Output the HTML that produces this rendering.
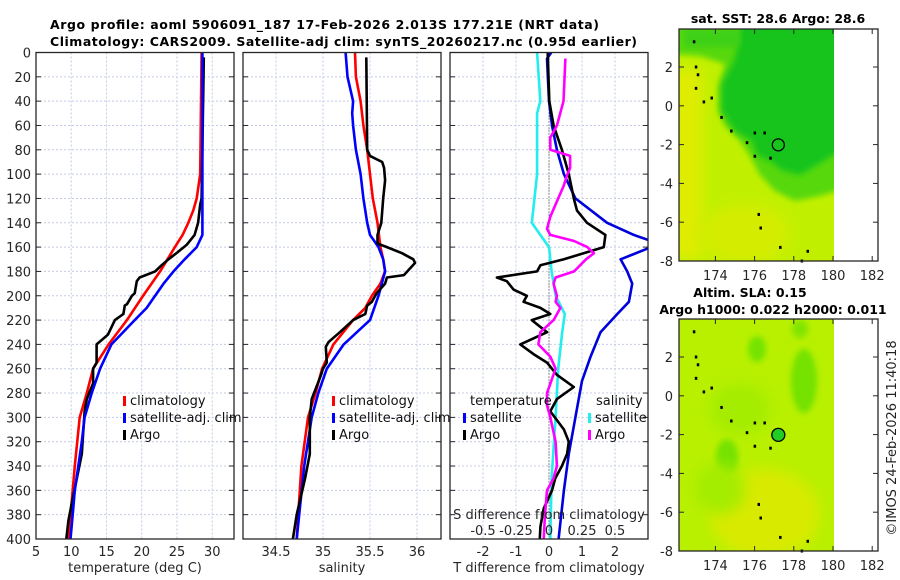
<!DOCTYPE html>
<html><head><meta charset="utf-8"><style>
html,body{margin:0;padding:0;background:#fff;}
svg{display:block;font-family:"DejaVu Sans","Liberation Sans",sans-serif;}
</style></head><body>
<svg id="fig" width="900" height="580" viewBox="0 0 900 580" xmlns="http://www.w3.org/2000/svg">
<defs>
<clipPath id="c1"><rect x="36" y="52" width="198" height="487"/></clipPath>
<clipPath id="c2"><rect x="243" y="52" width="198" height="487"/></clipPath>
<clipPath id="c3"><rect x="450" y="52" width="198" height="487"/></clipPath>
<clipPath id="m1"><rect x="679" y="29" width="155" height="232"/></clipPath>
<clipPath id="m2"><rect x="679" y="319" width="155" height="232"/></clipPath>
<filter id="blur3" x="-20%" y="-20%" width="140%" height="140%"><feGaussianBlur stdDeviation="3"/></filter>
<filter id="blur8" x="-30%" y="-30%" width="160%" height="160%"><feGaussianBlur stdDeviation="7"/></filter>
</defs>
<text x="50" y="29" font-size="12.5" font-weight="bold" textLength="549" fill="#000">Argo profile: aoml 5906091_187 17-Feb-2026 2.013S 177.21E (NRT data)</text>
<text x="50" y="46" font-size="12.5" font-weight="bold" textLength="587" fill="#000">Climatology: CARS2009. Satellite-adj clim: synTS_20260217.nc (0.95d earlier)</text>
<g id="grids"></g>
<g id="lines"></g>
<g id="axes"></g>
<g id="maps"></g>
</svg>
<script>
// ---- data (depth in m) ----
const climTDepth=[0,100,120,130,140,150,160,180,200,220,240,260,280,300,340,360,400];
const climT=[28.5,28.3,27.8,27.3,26.6,25.8,24.7,22.6,20.2,17.9,15.3,13.1,12.2,11.2,10.5,10.2,9.6];
const satTDepth=[0,140,150,160,170,180,190,200,210,220,240,260,280,300,320,340,360,380,400];
const satT=[28.6,28.6,28.6,27.8,26.1,24.5,23.1,21.9,20.7,19.0,15.7,14.1,12.9,11.9,11.5,11.0,10.5,10.2,9.9];
const argoTDepth=[4,120,125,140,150,158,165,170,175,180,185,188,198,200,207,208,215,220,232,240,255,260,272,285,295,330,350,370,385,400];
const argoT=[28.8,28.5,28.3,28.0,27.5,26.4,24.9,23.8,22.8,21.9,19.7,19.3,19.0,18.6,17.9,17.6,17.4,16.2,15.2,13.6,13.6,13.1,13.1,12.2,11.9,11.5,10.8,10.1,9.6,9.3];
const climSDepth=[0,20,40,60,80,100,120,140,160,170,180,190,200,210,220,240,260,280,300,340,400];
const climS=[35.34,35.35,35.40,35.43,35.47,35.50,35.53,35.58,35.61,35.64,35.66,35.61,35.52,35.45,35.32,35.11,34.99,34.92,34.84,34.77,34.72];
const satSDepth=[0,20,40,50,60,80,100,120,140,150,160,170,180,200,220,230,240,260,280,300,340,400];
const satS=[35.24,35.26,35.32,35.31,35.32,35.35,35.40,35.43,35.47,35.50,35.59,35.64,35.66,35.59,35.50,35.36,35.22,35.04,34.95,34.88,34.80,34.72];
const argoSDepth=[4,80,85,90,95,105,120,140,150,157,160,165,170,173,178,183,185,190,198,205,208,215,220,230,238,242,255,260,265,285,300,330,350,380,400];
const argoS=[35.46,35.47,35.50,35.63,35.65,35.66,35.64,35.62,35.58,35.58,35.68,35.84,35.96,35.98,35.92,35.86,35.68,35.66,35.57,35.52,35.47,35.45,35.32,35.18,35.06,35.03,35.04,35.00,34.98,34.88,34.86,34.86,34.81,34.72,34.68];
const satdTDepth=[0,5,40,60,80,100,120,140,150,155,160,170,180,190,205,215,230,250,270,300,330,360,400];
const satdT=[0.07,-0.06,0,0.09,0.24,0.45,0.8,1.76,2.57,3.1,3.1,2.17,2.37,2.52,2.42,2.07,1.56,1.26,1.0,0.8,0.6,0.45,0.29];
const argodTDepth=[0,40,60,80,100,120,130,140,150,160,165,170,175,180,185,188,195,200,205,210,215,220,230,240,248,255,265,275,285,295,310,320,330,340,350,360,375,390,400];
const argodT=[-0.04,0.01,0.14,0.39,0.6,0.75,0.85,1.15,1.71,1.66,1.05,0.45,-0.26,-0.36,-1.58,-1.28,-1.07,-0.67,-0.77,-0.26,0.04,-0.52,-0.06,-0.87,-0.47,-0.06,0.24,0.75,0.24,0.04,0.45,0.6,0.55,0.39,0.19,0.09,-0.16,-0.26,-0.28];
const satdSDepth=[0,40,50,60,100,140,150,160,180,200,215,230,260,300,350,400];
const satdS=[-0.09,-0.066,-0.09,-0.09,-0.09,-0.13,-0.066,0,0.02,0.05,0.12,0.1,0.07,0.05,0.02,0.01];
const argodSDepth=[5,40,60,70,80,85,95,100,110,120,135,145,150,155,160,165,170,180,185,190,200,205,210,220,230,240,250,260,280,290,300,320,340,350,360,380,400];
const argodS=[0.124,0.11,0.06,0.01,0.01,0.16,0.16,0.14,0.11,0.07,0.01,-0.015,0.01,0.19,0.29,0.34,0.28,0.19,0.05,0.035,0.06,0.05,0.086,0.035,-0.066,-0.08,0.01,0.05,-0.015,-0.015,0.01,0.05,0.06,0.035,-0.015,-0.03,-0.04];
const depthTicks=[0,20,40,60,80,100,120,140,160,180,200,220,240,260,280,300,320,340,360,380,400];
const tTicks=[5,10,15,20,25,30];
const sTicks=[34.5,35,35.5,36];
const dTTicks=[-2,-1,0,1,2];
const dSTickLabels=["-0.5","-0.25","0","0.25","0.5"];
const dSTicks=[-0.5,-0.25,0,0.25,0.5];

const NS="http://www.w3.org/2000/svg";
const Y0=52.5,Y1=539;
function yD(d){return Y0+(Y1-Y0)*d/400;}
const P=[{x0:36,x1:234,min:5,max:33.09,clip:"c1",name:"temperature-panel"},
{x0:243,x1:441,min:34.149,max:36.255,clip:"c2",name:"salinity-panel"},
{x0:450,x1:648,min:-3,max:3,clip:"c3",name:"difference-panel"}];
function xP(p,v){return p.x0+(v-p.min)/(p.max-p.min)*(p.x1-p.x0);}
function mk(tag,attrs,parent){const e=document.createElementNS(NS,tag);for(const k in attrs)e.setAttribute(k,attrs[k]);parent.appendChild(e);return e;}
const G=document.getElementById('grids'),L=document.getElementById('lines'),A=document.getElementById('axes'),M=document.getElementById('maps');
const gridCol="#c4cbe6";
P.forEach((p,i)=>{
  depthTicks.forEach(d=>{if(d>0&&d<400){const l=mk('line',{x1:p.x0,x2:p.x1,y1:yD(d),y2:yD(d),stroke:gridCol,'stroke-width':1,'stroke-dasharray':'2,2'},G);
  
  }});
  const tk=i==0?tTicks:(i==1?sTicks:dTTicks);
  tk.forEach(v=>{const x=xP(p,v);if(x>p.x0+1){const l=mk('line',{x1:x,x2:x,y1:Y0,y2:Y1,stroke:gridCol,'stroke-width':1,'stroke-dasharray':'2,2'},G);
  
  }});
});
const zl=mk('line',{x1:xP(P[2],0),x2:xP(P[2],0),y1:Y0,y2:Y1,stroke:'#333','stroke-width':1,'stroke-dasharray':'1,2'},G);


function series(p,ds,vs,col,name,scale){
  const pts=ds.map((d,i)=>xP(p,vs[i]*(scale||1)).toFixed(1)+','+yD(d).toFixed(1)).join(' ');
  const e=mk('polyline',{points:pts,fill:'none',stroke:col,'stroke-width':2.6,'stroke-linejoin':'round','clip-path':'url(#'+p.clip+')'},L);
  
  
}
series(P[0],climTDepth,climT,'#ff0000','climatology-temperature-line');
series(P[0],argoTDepth,argoT,'#000','argo-temperature-line');
series(P[0],satTDepth,satT,'#0000ff','satellite-temperature-line');
series(P[1],climSDepth,climS,'#ff0000','climatology-salinity-line');
series(P[1],satSDepth,satS,'#0000ff','satellite-salinity-line');
series(P[1],argoSDepth,argoS,'#000','argo-salinity-line');
series(P[2],satdSDepth,satdS,'#22eeee','satellite-salinity-diff-line',4);
series(P[2],satdTDepth,satdT,'#0000dd','satellite-temperature-diff-line');
series(P[2],argodTDepth,argodT,'#000','argo-temperature-diff-line');
series(P[2],argodSDepth,argodS,'#ff00ff','argo-salinity-diff-line',4);
function txt(x,y,s,attrs,name,parent){const t=mk('text',Object.assign({x:x,y:y,'font-size':13,fill:'#262626'},attrs||{}),parent||A);t.textContent=s;

return t;}
P.forEach((p,i)=>{
  const r=mk('rect',{x:p.x0,y:Y0,width:p.x1-p.x0,height:Y1-Y0,fill:'none',stroke:'#262626','stroke-width':1.3},A);
  
  
  depthTicks.forEach(d=>{mk('line',{x1:p.x0,x2:p.x0+5,y1:yD(d),y2:yD(d),stroke:'#262626'},A);mk('line',{x1:p.x1-5,x2:p.x1,y1:yD(d),y2:yD(d),stroke:'#262626'},A);
    if(i==0)txt(31,yD(d)+5,String(d),{'text-anchor':'end'},'y-tick-label');});
  const tk=i==0?tTicks:(i==1?sTicks:dTTicks);
  tk.forEach(v=>{txt(xP(p,v),556,String(v),{'text-anchor':'middle'},'x-tick-label');});
});
txt(135,572,'temperature (deg C)',{'text-anchor':'middle'},'x-axis-title-temperature');
txt(342,572,'salinity',{'text-anchor':'middle'},'x-axis-title-salinity');
txt(549,572,'T difference from climatology',{'text-anchor':'middle'},'x-axis-title-difference');
txt(549,519,'S difference from climatology',{'text-anchor':'middle'},'s-axis-title');
dSTicks.forEach((v,i)=>{txt(xP(P[2],v*4),535,dSTickLabels[i],{'text-anchor':'middle'},'s-tick-label');});
function leg(x,y,col,label){const r=mk('rect',{x:x,y:y-9,width:3,height:10,fill:col},A);


if(label)txt(x+7,y,label,{fill:'#111'},'legend-entry');}
[123,332].forEach(x=>{leg(x,405,'#ff0000','climatology');leg(x,422,'#0000ff','satellite-adj. clim');leg(x,439,'#000','Argo');});
txt(470,405,'temperature',{fill:'#111'},'legend-title-temperature');
leg(463,422,'#0000ff','satellite');leg(463,439,'#000','Argo');
txt(596,405,'salinity',{fill:'#111'},'legend-title-salinity');
leg(588,422,'#22eeee','satellite');leg(588,439,'#ff00ff','Argo');

// ---- maps ----
const mapLon=[174,176,178,180,182];
const mapLat=[2,0,-2,-4,-6,-8];
function drawMap(top,bottom,kind){
  const lx=(lon)=>833+(lon-180)*19.6;
  const ly=(lat)=>top+38+(2-lat)*((bottom-top-38)/10);
  const g=mk('g',{},M);
  
  
  const W=834-679,H=bottom-top;
  const f=mk('g',{'clip-path':kind=='sst'?'url(#m1)':'url(#m2)'},g);
  const o=top-29;
  if(kind=='sst'){
    mk('rect',{x:679,y:top,width:W,height:H,fill:'#c0f000'},f);
    mk('rect',{x:672,y:top+40,width:30,height:190,fill:'#e0ec00',filter:'url(#blur8)'},f);
    mk('ellipse',{cx:745,cy:top+205,rx:45,ry:30,fill:'#d4ec00',filter:'url(#blur8)'},f);
    mk('polygon',{points:`670,${top-5} 840,${top-5} 840,${top+161} 820,${top+167} 795,${top+172} 775,${top+162} 760,${top+146} 750,${top+127} 740,${top+112} 725,${top+97} 718,${top+82} 718,${top+57} 725,${top+35} 700,${top+27} 670,${top+25}`,fill:'#56d80c',filter:'url(#blur3)'},f);
    mk('polygon',{points:`740,${top-5} 840,${top-5} 840,${top+122} 815,${top+137} 800,${top+146} 782,${top+141} 770,${top+132} 757,${top+126} 752,${top+112} 735,${top+102} 722,${top+82} 722,${top+55} 735,${top+30} 738,${top+12}`,fill:'#18c41e',filter:'url(#blur3)'},f);
    mk('rect',{x:684,y:top,width:56,height:18,fill:'#3cd016',filter:'url(#blur3)'},f);
  } else {
    mk('rect',{x:679,y:top,width:W,height:H,fill:'#b8f000'},f);
    mk('ellipse',{cx:765,cy:top+195,rx:55,ry:45,fill:'#d8ea00',filter:'url(#blur8)'},f);
    mk('ellipse',{cx:804,cy:top+62,rx:13,ry:32,fill:'#74e200',filter:'url(#blur3)'},f);
    mk('ellipse',{cx:757,cy:top+30,rx:9,ry:13,fill:'#74e400',filter:'url(#blur3)'},f);
    mk('ellipse',{cx:727,cy:top+138,rx:11,ry:18,fill:'#74e200',filter:'url(#blur3)'},f);
    mk('ellipse',{cx:800,cy:top+10,rx:8,ry:9,fill:'#80e400',filter:'url(#blur3)'},f);
    mk('ellipse',{cx:740,cy:top+90,rx:30,ry:25,fill:'#a4ec00',filter:'url(#blur8)'},f);
    mk('ellipse',{cx:720,cy:top+170,rx:25,ry:25,fill:'#a4ec00',filter:'url(#blur8)'},f);
  }
  const isl=[[172.9,3.3],[173.0,2.0],[173.1,1.6],[173.0,0.9],[173.4,0.2],[173.8,0.4],[174.3,-0.6],[174.8,-1.3],[175.6,-1.9],[176.0,-1.4],[176.5,-1.4],[176.0,-2.6],[176.8,-2.7],[176.2,-5.6],[176.3,-6.3],[177.3,-7.3],[178.7,-7.5],[178.4,-8]];
  isl.forEach(c=>{const r=mk('rect',{x:lx(c[0])-1,y:ly(c[1])-1.5,width:2.5,height:3,fill:'#000'},g);
  
  });
  const cx=lx(177.21),cy=ly(-2.013);
  const c=mk('circle',{cx:cx,cy:cy,r:kind=='sst'?6:6.5,fill:kind=='sst'?'none':'#22cc22',stroke:'#000','stroke-width':1.3},g);
  
  
  const fr=mk('rect',{x:679,y:top,width:199,height:H,fill:'none',stroke:'#262626','stroke-width':1.3},g);
  
  
  mapLat.forEach(la=>{const y=ly(la);mk('line',{x1:679,x2:684,y1:y,y2:y,stroke:'#262626'},g);mk('line',{x1:873,x2:878,y1:y,y2:y,stroke:'#262626'},g);
    txt(673,y+5,String(la),{'text-anchor':'end'},'map-lat-label',g);});
  mapLon.forEach(lo=>{const x=lx(lo);mk('line',{x1:x,x2:x,y1:top,y2:top+5,stroke:'#262626'},g);mk('line',{x1:x,x2:x,y1:bottom-5,y2:bottom,stroke:'#262626'},g);
    txt(x,bottom+19,String(lo),{'text-anchor':'middle'},'map-lon-label',g);});
}
drawMap(29,261,'sst');
drawMap(319,551,'sla');
txt(778,23,'sat. SST: 28.6 Argo: 28.6',{'text-anchor':'middle','font-weight':'bold',fill:'#000','font-size':12.5},'sst-map-title');
txt(750,297,'Altim. SLA: 0.15',{'text-anchor':'middle','font-weight':'bold',fill:'#000','font-size':12.5},'sla-map-title');
txt(773,314,'Argo h1000: 0.022 h2000: 0.011',{'text-anchor':'middle','font-weight':'bold',fill:'#000','font-size':12.5},'argo-height-title');
txt(0,0,'©IMOS 24-Feb-2026 11:40:18',{'text-anchor':'middle',transform:'translate(896,438) rotate(-90)',fill:'#222'},'copyright-stamp');
</script>
</body></html>
